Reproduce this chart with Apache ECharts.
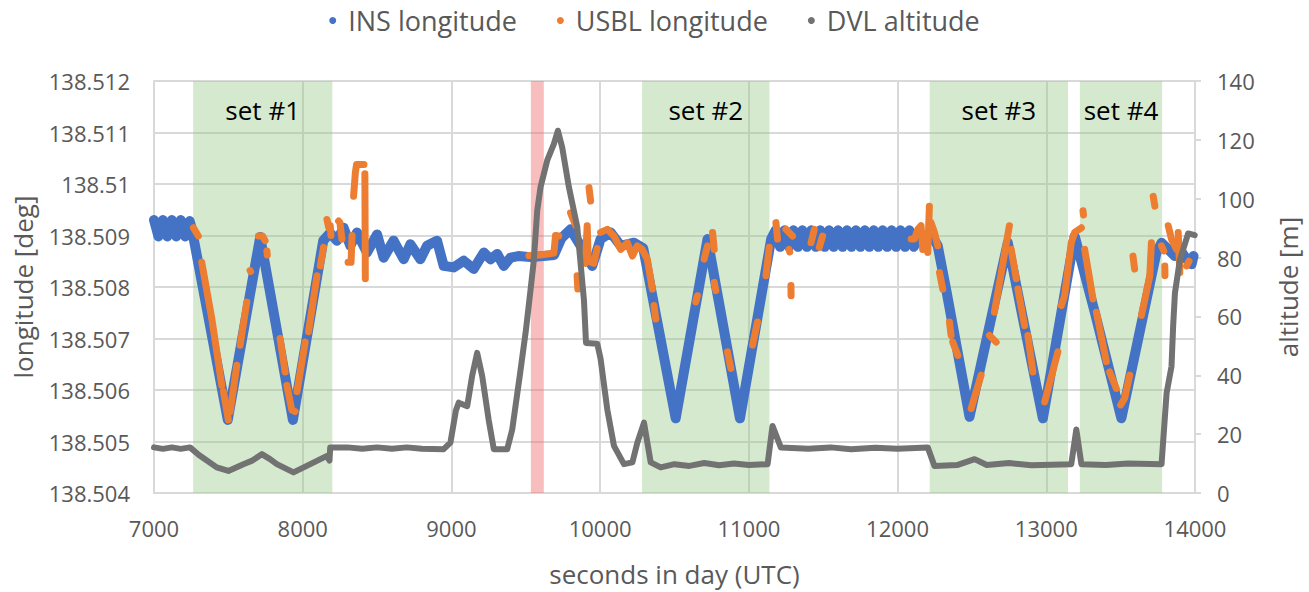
<!DOCTYPE html>
<html>
<head>
<meta charset="utf-8">
<script src="https://cdn.jsdelivr.net/npm/echarts@6/dist/echarts.min.js"></script>
<style>
  html, body { margin: 0; padding: 0; background: #fff; }
  #chart { width: 1309px; height: 592px; }
</style>
</head>
<body>
<div id="chart"></div>
<script>
// ---- data ----
var LEGEND_NAMES = ['INS longitude', 'USBL longitude', 'DVL altitude'];

// shaded intervals (seconds in day)
var SET_NAMES = ['set #1', 'set #2', 'set #3', 'set #4'];
var SET_START = [7263, 10282, 12216, 13226];
var SET_END = [8199, 11138, 13146, 13779];
var RED_START = 9534;
var RED_END = 9621;

// INS longitude [seconds, deg]
var INS_LON = [
  [7000,138.50930],[7030,138.50898],[7060,138.50930],[7090,138.50898],[7120,138.50930],
  [7150,138.50898],[7180,138.50930],[7210,138.50898],[7240,138.50928],[7255,138.50912],
  [7496,138.50542],[7714,138.50897],[7934,138.50542],[8138,138.50890],
  [8185,138.50905],[8230,138.50890],[8275,138.50915],[8320,138.50880],[8365,138.50906],
  [8432,138.50867],[8500,138.50902],[8544,138.50857],[8611,138.50890],[8679,138.50854],
  [8724,138.50883],[8791,138.50854],[8836,138.50880],[8903,138.50890],[8948,138.50841],
  [9016,138.50838],[9083,138.50851],[9150,138.50835],[9218,138.50867],[9263,138.50854],
  [9308,138.50864],[9352,138.50841],[9397,138.50857],[9450,138.50860],[9532,138.50858],
  [9620,138.50860],[9690,138.50862],[9740,138.50895],[9801,138.50912],[9869,138.50880],
  [9947,138.50841],[10003,138.50893],[10071,138.50906],[10138,138.50880],[10228,138.50886],
  [10290,138.50875],[10508,138.50545],[10722,138.50893],[10940,138.50545],[11150,138.50893],
  [11180,138.50910],[11210,138.50878],[11240,138.50910],[11270,138.50878],[11300,138.50910],
  [11330,138.50878],[11360,138.50910],[11390,138.50878],[11420,138.50910],[11450,138.50878],
  [11480,138.50910],[11510,138.50878],[11540,138.50910],[11570,138.50878],[11600,138.50910],
  [11630,138.50878],[11660,138.50910],[11690,138.50878],[11720,138.50910],[11750,138.50878],
  [11780,138.50910],[11810,138.50878],[11840,138.50910],[11870,138.50878],[11900,138.50910],
  [11930,138.50878],[11960,138.50910],[11990,138.50878],[12020,138.50910],[12050,138.50878],
  [12080,138.50910],[12110,138.50878],[12140,138.50905],[12170,138.50885],[12203,138.50902],
  [12240,138.50895],[12270,138.50880],[12330,138.50790],[12484,138.50548],[12741,138.50886],
  [12977,138.50545],[13191,138.50899],[13326,138.50751],[13505,138.50545],[13741,138.50867],
  [13775,138.50886],[13820,138.50873],[13865,138.50860],[13898,138.50873],[13943,138.50854],
  [13977,138.50844],[13990,138.50860]
];

// USBL longitude, broken into the visible dashes [seconds, deg]
var USBL_LON = [
  [[7265,138.50915],[7298,138.50899]],
  [[7321,138.50848],[7389,138.50738],[7456,138.50609]],
  [[7467,138.50597],[7500,138.50542]],
  [[7512,138.50558],[7557,138.50648]],
  [[7579,138.50687],[7624,138.50771]],
  [[7646,138.50832],[7650,138.50830]],
  [[7702,138.50899],[7730,138.50899],[7747,138.50890]],
  [[7759,138.50870],[7762,138.50862]],
  [[7848,138.50700],[7882,138.50635]],
  [[7893,138.50609],[7927,138.50561],[7949,138.50558]],
  [[7961,138.50597],[8017,138.50693]],
  [[8039,138.50713],[8096,138.50822]],
  [[8118,138.50841],[8140,138.50877]],
  [[8163,138.50931],[8175,138.50915]],
  [[8185,138.50919],[8190,138.50900]],
  [[8241,138.50928],[8250,138.50925],[8264,138.50893]],
  [[8305,138.50848],[8325,138.50848],[8332,138.50900]],
  [[8342,138.50976],[8354,138.51022],[8362,138.51038],[8412,138.51038]],
  [[8418,138.51020],[8421,138.50816]],
  [[9521,138.50861],[9600,138.50862],[9689,138.50866],[9700,138.50900],[9722,138.50899]],
  [[9801,138.50944],[9836,138.50919]],
  [[9845,138.50822],[9850,138.50796]],
  [[9925,138.50993],[9936,138.50967]],
  [[9880,138.50850],[9900,138.50846],[9913,138.50919],[9920,138.50850],[9958,138.50846],[9980,138.50875]],
  [[10003,138.50906],[10048,138.50912],[10093,138.50899],[10138,138.50873],[10183,138.50886],
   [10217,138.50860],[10250,138.50880],[10283,138.50873],[10317,138.50854],[10351,138.50796]],
  [[10362,138.50764],[10374,138.50738]],
  [[10643,138.50771],[10654,138.50783]],
  [[10699,138.50854],[10722,138.50880]],
  [[10756,138.50906],[10767,138.50873]],
  [[10767,138.50809],[10778,138.50793]],
  [[10856,138.50674],[10879,138.50642]],
  [[11025,138.50687],[11058,138.50732]],
  [[11115,138.50822],[11137,138.50877]],
  [[11182,138.50925],[11193,138.50893]],
  [[11249,138.50912],[11294,138.50899]],
  [[11270,138.50873],[11275,138.50868]],
  [[11283,138.50803],[11284,138.50783]],
  [[11418,138.50886],[11440,138.50912]],
  [[11474,138.50877],[11496,138.50899]],
  [[12091,138.50893],[12113,138.50893],[12136,138.50912],[12158,138.50919],[12169,138.50873]],
  [[12203,138.50867],[12214,138.50957]],
  [[12225,138.50925],[12248,138.50906],[12270,138.50880]],
  [[12282,138.50828],[12304,138.50796]],
  [[12349,138.50732],[12360,138.50706]],
  [[12371,138.50693],[12405,138.50667]],
  [[12495,138.50564],[12562,138.50629]],
  [[12618,138.50706],[12663,138.50693]],
  [[12651,138.50751],[12752,138.50919]],
  [[12764,138.50873],[12798,138.50816]],
  [[12809,138.50796],[12854,138.50725]],
  [[12876,138.50706],[12910,138.50635]],
  [[12989,138.50577],[13078,138.50674]],
  [[13101,138.50764],[13123,138.50783],[13168,138.50886],[13191,138.50906],[13236,138.50915]],
  [[13247,138.50948],[13250,138.50940]],
  [[13258,138.50873],[13269,138.50854],[13314,138.50777]],
  [[13337,138.50751],[13404,138.50655]],
  [[13426,138.50635],[13471,138.50603]],
  [[13500,138.50571],[13527,138.50584],[13561,138.50629]],
  [[13583,138.50860],[13594,138.50835]],
  [[13640,138.50745],[13696,138.50822],[13707,138.50886]],
  [[13719,138.50976],[13730,138.50957]],
  [[13775,138.50880],[13790,138.50870]],
  [[13797,138.50841],[13798,138.50822]],
  [[13820,138.50919],[13842,138.50893],[13876,138.50873]],
  [[13887,138.50906],[13898,138.50828]],
  [[13943,138.50841],[13960,138.50850]]
];

// DVL altitude [seconds, m]
var DVL_ALT = [
  [7000,15.5],[7060,15.0],[7120,15.5],[7180,15.0],[7242,15.5],[7300,13.0],[7422,8.7],
  [7500,7.5],[7601,9.8],[7660,11.0],[7725,13.2],[7780,11.5],[7826,9.8],[7938,7.0],
  [8051,9.8],[8163,12.6],[8180,11.0],[8185,15.5],[8300,15.5],[8400,15.0],[8500,15.5],
  [8600,15.0],[8700,15.5],[8800,15.0],[8948,14.9],[8993,17.1],[9030,28.0],[9049,30.7],
  [9106,29.5],[9140,40.0],[9173,47.6],[9207,39.7],[9250,25.0],[9285,14.9],[9375,14.9],
  [9409,21.6],[9460,40.0],[9500,55.0],[9532,69.0],[9554,79.0],[9577,96.0],[9599,103.9],
  [9644,113.0],[9689,118.6],[9716,123.1],[9745,117.4],[9790,103.9],[9846,90.4],
  [9891,65.6],[9905,51.0],[9981,50.7],[10003,45.6],[10048,28.4],[10093,16.0],[10160,9.8],
  [10217,10.4],[10250,17.1],[10295,23.9],[10340,10.4],[10407,8.7],[10500,9.8],[10600,9.2],
  [10700,10.2],[10800,9.4],[10900,10.0],[11000,9.5],[11126,9.8],[11159,22.8],[11215,15.5],
  [11400,15.0],[11550,15.5],[11687,14.9],[11850,15.4],[12000,15.0],[12203,15.5],[12248,9.2],
  [12400,9.5],[12518,11.5],[12600,9.5],[12750,10.2],[12900,9.4],[13168,9.8],[13202,21.6],
  [13236,9.8],[13400,9.5],[13550,10.0],[13775,9.8],[13809,34.0],[13842,43.0],[13853,56.6],
  [13865,67.9],[13898,79.1],[13954,88.2],[13998,87.6]
];

var X_MIN = 7000, X_MAX = 14000, X_STEP = 1000;
var LON_MIN = 138.504, LON_MAX = 138.512, LON_STEP = 0.001;
var ALT_MIN = 0, ALT_MAX = 140, ALT_STEP = 20;

// ---- chart ----
var font = '"Open Sans", "Noto Sans", sans-serif';
var textGrey = '#595959';
var gridGrey = '#d9d9d9';
var blue = '#4472c4', orange = '#ed7d31', grey = '#727272';

var chart = echarts.init(document.getElementById('chart'), null, { renderer: 'svg' });

var areas = [];
for (var i = 0; i < SET_NAMES.length; i++) {
  areas.push([{ name: SET_NAMES[i], xAxis: SET_START[i] }, { xAxis: SET_END[i] }]);
}
areas.push([{ name: '', xAxis: RED_START, itemStyle: { color: 'rgba(240,110,110,0.45)' } }, { xAxis: RED_END }]);

var series = [{
  name: 'areas',
  type: 'line',
  data: [],
  z: 1,
  silent: true,
  markArea: {
    silent: true,
    itemStyle: { color: 'rgba(150,200,135,0.40)' },
    label: {
      show: true,
      position: 'insideTop',
      distance: 16,
      color: '#000',
      fontSize: 26,
      fontFamily: font
    },
    data: areas
  }
}, {
  name: 'INS longitude',
  type: 'line',
  data: INS_LON,
  showSymbol: false,
  color: blue,
  lineStyle: { width: 10, color: blue, cap: 'round', join: 'round' }
}];

USBL_LON.forEach(function(seg) {
  series.push({
    name: 'USBL longitude',
    type: 'line',
    data: seg,
    showSymbol: false,
    color: orange,
    lineStyle: { width: 7, color: orange, cap: 'round', join: 'round' }
  });
});

series.push({
  name: 'DVL altitude',
  type: 'line',
  yAxisIndex: 1,
  data: DVL_ALT,
  showSymbol: false,
  color: grey,
  lineStyle: { width: 6, color: grey, cap: 'round', join: 'round' }
});

chart.setOption({
  animation: false,
  textStyle: { fontFamily: font },
  legend: {
    data: LEGEND_NAMES,
    top: 2,
    left: 'center',
    icon: 'circle',
    itemWidth: 7,
    itemHeight: 7,
    itemGap: 40,
    textStyle: { fontSize: 27, color: textGrey, fontFamily: font, padding: [0, 0, 0, 7] }
  },
  grid: { left: 154, right: 114, top: 81, bottom: 98 },
  xAxis: {
    type: 'value',
    min: X_MIN, max: X_MAX, interval: X_STEP,
    name: 'seconds in day (UTC)',
    nameLocation: 'middle',
    nameGap: 68,
    nameTextStyle: { fontSize: 26, color: textGrey },
    axisLine: { show: true, lineStyle: { color: gridGrey, width: 2 } },
    axisTick: { show: false },
    axisLabel: { fontSize: 22, color: textGrey, margin: 24, formatter: function(v) { return String(v); } },
    splitLine: { show: true, lineStyle: { color: gridGrey, width: 2 } }
  },
  yAxis: [{
    type: 'value',
    min: LON_MIN, max: LON_MAX, interval: LON_STEP,
    name: 'longitude [deg]',
    nameLocation: 'middle',
    nameGap: 118,
    nameTextStyle: { fontSize: 26, color: textGrey },
    axisLine: { show: true, lineStyle: { color: gridGrey, width: 2 } },
    axisTick: { show: false },
    axisLabel: { fontSize: 22, color: textGrey, margin: 24, formatter: function(v) { return String(+v.toFixed(3)); } },
    splitLine: { show: true, lineStyle: { color: gridGrey, width: 2 } }
  }, {
    type: 'value',
    min: ALT_MIN, max: ALT_MAX, interval: ALT_STEP,
    name: 'altitude [m]',
    nameLocation: 'middle',
    nameGap: 80,
    nameTextStyle: { fontSize: 26, color: textGrey },
    axisLine: { show: true, lineStyle: { color: gridGrey, width: 2 } },
    axisTick: { show: true, length: 6, lineStyle: { color: gridGrey, width: 2 } },
    axisLabel: { fontSize: 22, color: textGrey, margin: 22 },
    splitLine: { show: false }
  }],
  series: series
});
window.addEventListener('resize', function() { chart.resize(); });
</script>
</body>
</html>
